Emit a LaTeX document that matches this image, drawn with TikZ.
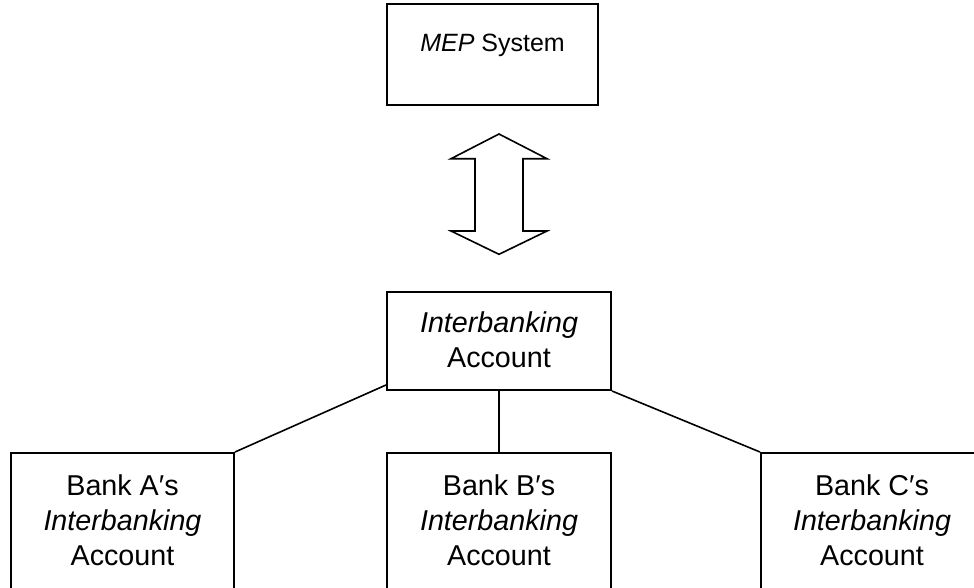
\documentclass[tikz,border=0pt]{standalone}
\usepackage{fontspec}
\setmainfont{Liberation Sans}
\begin{document}
\begin{tikzpicture}[x=1pt,y=-1pt,
  boxstyle/.style={draw=black,line width=2pt,rectangle,inner sep=0pt},
  textstyle/.style={align=center,inner sep=0pt,font=\fontsize{28.7}{35}\selectfont},
  link/.style={draw=black,line width=1.6pt}]
\useasboundingbox (0,0) rectangle (974,587);
\clip (0,0) rectangle (974,587);
% boxes
\node[boxstyle,minimum width=211pt,minimum height=101pt] (mep) at (492.5,54.5) {};
\node[boxstyle,minimum width=224pt,minimum height=98pt] (inter) at (499,341) {};
\node[boxstyle,minimum width=223pt,minimum height=137pt] (bankA) at (122.5,521.5) {};
\node[boxstyle,minimum width=224pt,minimum height=137pt] (bankB) at (499,521.5) {};
\node[boxstyle,minimum width=222pt,minimum height=137pt] (bankC) at (872,521.5) {};
% texts
\node[inner sep=0pt,font=\fontsize{25}{30}\selectfont] (meptext) at (492.5,45) {\textit{MEP} System};
\node[textstyle] (intertext) at (499,340) {\textit{Interbanking}\\Account};
\node[textstyle] (textA) at (122.5,520) {Bank A′s\\\textit{Interbanking}\\Account};
\node[textstyle] (textB) at (499,520) {Bank B′s\\\textit{Interbanking}\\Account};
\node[textstyle] (textC) at (872,520) {Bank C′s\\\textit{Interbanking}\\Account};
% double arrow
\draw[line width=1.6pt,line join=miter] (499,134) -- (547,158.7) -- (523,158.7) -- (523,231) -- (547,231)
  -- (499,254.3) -- (451,231) -- (475,231) -- (475,158.7) -- (451,158.7) -- cycle;
% connectors
\coordinate (interL) at ([yshift=6pt]inter.south west);
\draw[link] (interL) -- (bankA.north east);
\draw[link] (inter.south) -- (bankB.north);
\draw[link] (inter.south east) -- (bankC.north west);
\end{tikzpicture}
\end{document}
